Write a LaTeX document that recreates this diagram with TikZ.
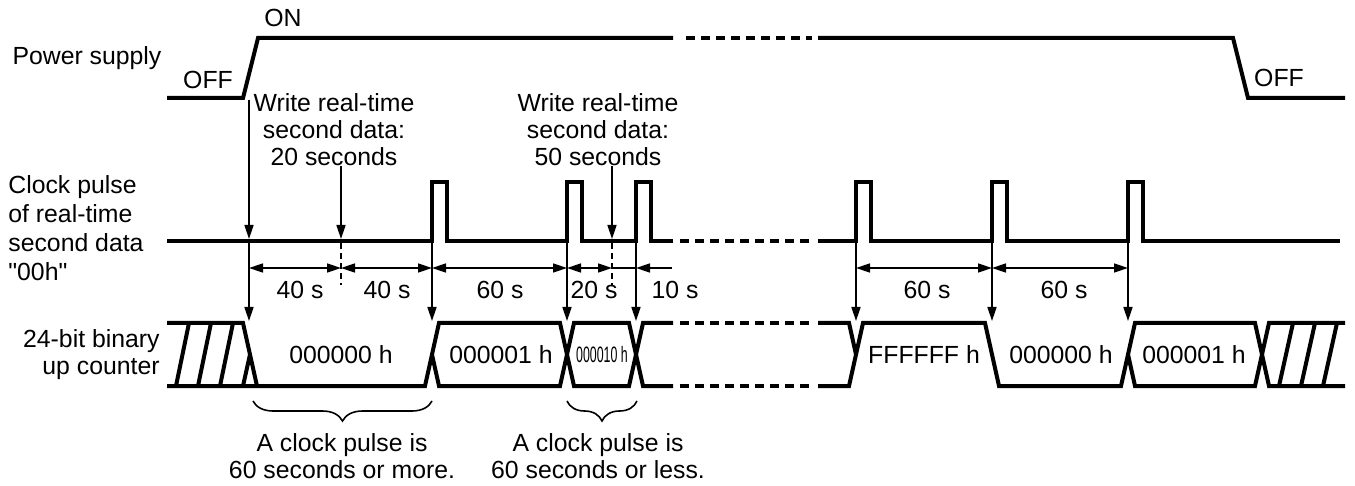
\documentclass[tikz,border=0pt]{standalone}
\usepackage{fontspec}
\setmainfont{Liberation Sans}[Ligatures=TeXOff]
\usepackage{graphicx}
\usetikzlibrary{arrows.meta,decorations.pathreplacing}
\tikzset{
  sigline/.style={line width=2pt, line join=miter},
  gapline/.style={line width=2pt, dash pattern=on 4.5pt off 3pt},
  tickarrow/.style={line width=0.8pt, -{Triangle[length=7pt,width=4.5pt]}},
  dimarrow/.style={line width=0.8pt, {Triangle[length=7pt,width=4.5pt]}-{Triangle[length=7pt,width=4.5pt]}},
  guide/.style={line width=0.8pt, dash pattern=on 3pt off 2pt},
  lbl/.style={font=\fontsize{12.4}{13.5}\selectfont, align=center, inner sep=0pt},
  brace/.style={decorate, decoration={brace, amplitude=10pt}, line width=0.8pt}
}

\begin{document}
\begin{tikzpicture}[x=0.5pt,y=-0.5pt,>=Latex]
  \useasboundingbox (0,0) rectangle (1355,486);

  % row labels
  \node[lbl] (pwr) at (87,58) {Power supply};
  \node[lbl, align=left, anchor=west, font=\fontsize{12.4}{14.5}\selectfont] (clk) at (8,228)
    {Clock pulse\\of real-time\\second data\\"00h"};
  \node[lbl, align=right, anchor=east] (cnt) at (160,355) {24-bit binary\\up counter};

  % power supply
  \draw[sigline] (167,98) -- (243,98) -- (258,38) -- (673,38);
  \draw[gapline] (686,38) -- (812,38);
  \draw[sigline] (818,38) -- (1233,38) -- (1248,98) -- (1345,98);
  \node[lbl] (on) at (283,18) {ON};
  \node[lbl] (offa) at (208,80) {OFF};
  \node[lbl] (offb) at (1279,78) {OFF};

  % clock pulse of second data
  \draw[sigline] (167,241) -- (432,241) -- (432,182) -- (447,182) -- (447,241)
    -- (567,241) -- (567,182) -- (582,182) -- (582,241)
    -- (636,241) -- (636,182) -- (651,182) -- (651,241) -- (673,241);
  \draw[gapline] (680,241) -- (812,241);
  \draw[sigline] (818,241) -- (856,241) -- (856,182) -- (871,182) -- (871,241)
    -- (992,241) -- (992,182) -- (1007,182) -- (1007,241)
    -- (1128,241) -- (1128,182) -- (1143,182) -- (1143,241) -- (1340,241);

  % write events
  \node[lbl] (wra) at (334,130) {Write real-time\\second data:\\20 seconds};
  \node[lbl] (wrb) at (598,130) {Write real-time\\second data:\\50 seconds};
  \draw[tickarrow] (249,100) -- (249,239);
  \draw[tickarrow] (341,166) -- (341,239);
  \draw[tickarrow] (612,166) -- (612,239);
  \draw[guide] (341,243) -- (341,285);
  \draw[guide] (612,243) -- (612,285);

  % arrows down to the counter
  \foreach \xx in {249,432,567,636,856,992,1128}
    \draw[tickarrow] (\xx,241) -- (\xx,321);

  % intervals
  \draw[dimarrow] (249,268) -- (341,268);
  \draw[dimarrow] (341,268) -- (432,268);
  \draw[dimarrow] (432,268) -- (567,268);
  \draw[dimarrow] (567,268) -- (612,268);
  \draw[line width=0.8pt] (612,268) -- (636,268);
  \draw[tickarrow] (672,268) -- (636,268);
  \draw[dimarrow] (856,268) -- (992,268);
  \draw[dimarrow] (992,268) -- (1128,268);
  \node[lbl] (da) at (300,290) {40 s};
  \node[lbl] (db) at (387,290) {40 s};
  \node[lbl] (dc) at (500,290) {60 s};
  \node[lbl] (dd) at (594,290) {20 s};
  \node[lbl] (de) at (675,290) {10 s};
  \node[lbl] (df) at (927,290) {60 s};
  \node[lbl] (dg) at (1064,290) {60 s};

  % 24-bit counter
  \draw[sigline] (167,323) -- (243,323) -- (257,386);
  \draw[sigline] (167,386) -- (425,386) -- (439,323) -- (560,323) -- (574,386) -- (629,386) -- (643,323) -- (673,323);
  \draw[sigline] (243,386) -- (250,354.5);
  \draw[sigline] (432,354.5) -- (439,386) -- (560,386) -- (574,323) -- (629,323) -- (643,386) -- (673,386);
  \foreach \xx in {176,198,220}
    \draw[sigline] (\xx,386) -- (\xx+13,323);
  \draw[gapline] (680,323) -- (812,323);
  \draw[gapline] (680,386) -- (812,386);
  \draw[sigline] (818,386) -- (849,386) -- (863,323) -- (985,323) -- (999,386) -- (1121,386) -- (1135,323) -- (1255,323) -- (1269,386) -- (1345,386);
  \draw[sigline] (818,323) -- (849,323) -- (856,354.5);
  \draw[sigline] (1128,354.5) -- (1135,386) -- (1255,386) -- (1269,323) -- (1345,323);
  \foreach \xx in {1279,1301,1323}
    \draw[sigline] (\xx,386) -- (\xx+14,323);
  \node[lbl] (va) at (341,355) {000000 h};
  \node[lbl] (vb) at (501,355) {000001 h};
  \node[lbl] (vc) at (602,355) {\scalebox{0.5}[0.9]{000010 h}};
  \node[lbl] (vd) at (924,355) {FFFFFF h};
  \node[lbl] (ve) at (1061,355) {000000 h};
  \node[lbl] (vf) at (1194,355) {000001 h};

  % notes under the counter
  \draw[brace] (432,401) -- (253,401);
  \draw[brace] (637,401) -- (567,401);
  \node[lbl] (nta) at (342,456) {A clock pulse is\\60 seconds or more.};
  \node[lbl] (ntb) at (598,456) {A clock pulse is\\60 seconds or less.};
\end{tikzpicture}
\end{document}
